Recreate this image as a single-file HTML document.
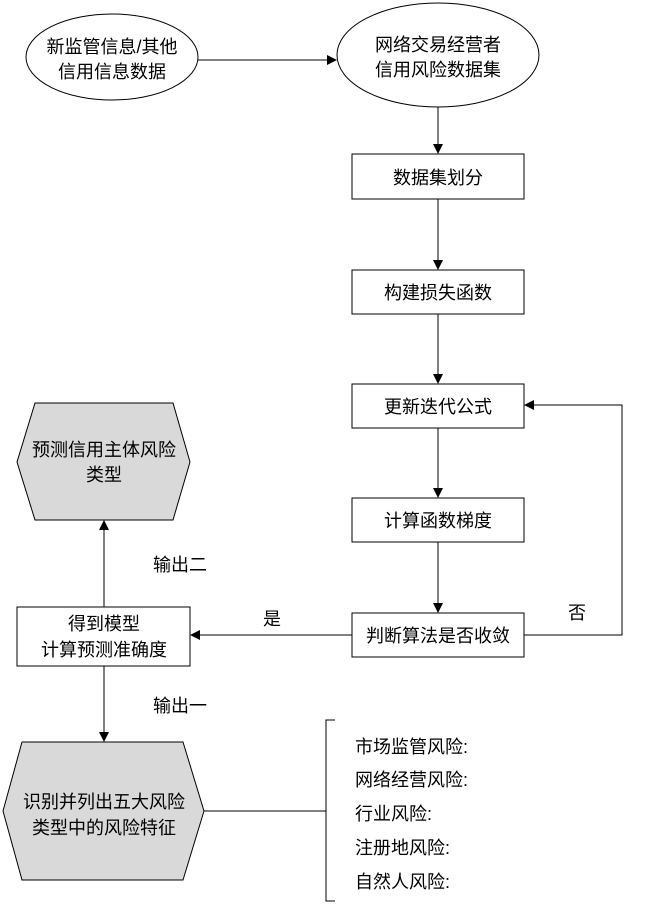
<!DOCTYPE html>
<html><head><meta charset="utf-8"><style>
html,body{margin:0;padding:0;background:#fff;}
svg{display:block;}
text{font-family:"Liberation Sans","Noto Sans CJK SC",sans-serif;font-size:18px;fill:#000;}
</style></head><body>
<svg width="662" height="906" viewBox="0 0 662 906" xmlns="http://www.w3.org/2000/svg">
<defs><marker id="a" markerWidth="10" markerHeight="10" refX="9" refY="5" orient="auto" markerUnits="userSpaceOnUse"><path d="M0,0 L10,5 L0,10 z" fill="#000"/></marker></defs>
<g stroke="#000" stroke-width="1" fill="none">
<ellipse cx="112" cy="57" rx="86" ry="43" fill="#fff"/>
<ellipse cx="438" cy="55" rx="101" ry="52" fill="#fff"/>
<line x1="198" y1="60" x2="336" y2="60" marker-end="url(#a)"/>
<line x1="438" y1="107" x2="438" y2="153" marker-end="url(#a)"/>
<rect x="352" y="154" width="172" height="45" fill="#fff"/>
<line x1="438" y1="199" x2="438" y2="269" marker-end="url(#a)"/>
<rect x="352" y="270" width="172" height="44" fill="#fff"/>
<line x1="438" y1="314" x2="438" y2="383" marker-end="url(#a)"/>
<rect x="352" y="384" width="172" height="44" fill="#fff"/>
<line x1="438" y1="428" x2="438" y2="497" marker-end="url(#a)"/>
<rect x="352" y="498" width="172" height="44" fill="#fff"/>
<line x1="438" y1="542" x2="438" y2="612" marker-end="url(#a)"/>
<rect x="352" y="613" width="172" height="44" fill="#fff"/>
<polyline points="524,635 622,635 622,405 525,405" marker-end="url(#a)"/>
<line x1="352" y1="635" x2="191" y2="635" marker-end="url(#a)"/>
<rect x="17" y="607" width="173" height="59" fill="#fff"/>
<polygon points="35,403 173,403 190,462 173,520 35,520 17,462" fill="#d9d9d9"/>
<line x1="104" y1="607" x2="104" y2="521" marker-end="url(#a)"/>
<polygon points="22,742 183,742 204,811 183,880 22,880 3,811" fill="#d9d9d9"/>
<line x1="104" y1="666" x2="104" y2="741" marker-end="url(#a)"/>
<line x1="204" y1="811" x2="326" y2="811"/>
<polyline points="335,720 326,720 326,901 335,901"/>
</g>
<g text-anchor="middle">
<text x="112" y="53">新监管信息/其他</text>
<text x="112" y="78">信用信息数据</text>
<text x="438" y="51">网络交易经营者</text>
<text x="438" y="76">信用风险数据集</text>
<text x="438" y="184">数据集划分</text>
<text x="438" y="299">构建损失函数</text>
<text x="438" y="413">更新迭代公式</text>
<text x="438" y="527">计算函数梯度</text>
<text x="438" y="642">判断算法是否收敛</text>
<text x="104" y="630">得到模型</text>
<text x="104" y="656">计算预测准确度</text>
<text x="104" y="456">预测信用主体风险</text>
<text x="104" y="481">类型</text>
<text x="104" y="808">识别并列出五大风险</text>
<text x="104" y="834">类型中的风险特征</text>
<text x="180" y="571">输出二</text>
<text x="180" y="712">输出一</text>
<text x="272" y="625">是</text>
<text x="577" y="619">否</text>
</g>
<g>
<text x="355" y="753">市场监管风险:</text>
<text x="355" y="786">网络经营风险:</text>
<text x="355" y="820">行业风险:</text>
<text x="355" y="854">注册地风险:</text>
<text x="355" y="888">自然人风险:</text>
</g>
</svg>
</body></html>
